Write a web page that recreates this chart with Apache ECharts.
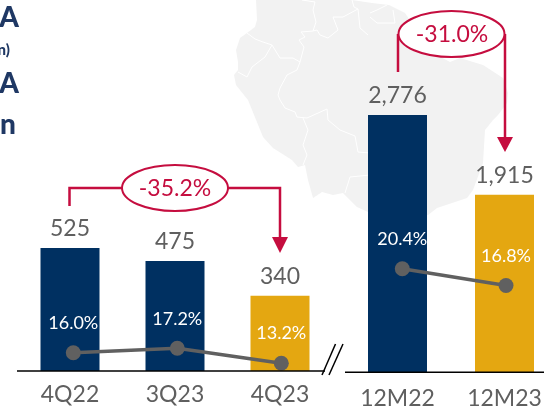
<!DOCTYPE html>
<html><head><meta charset="utf-8">
<style>html,body{margin:0;padding:0;background:#fff;overflow:hidden}#c{width:544px;height:407px}</style>
<script src="https://cdn.jsdelivr.net/npm/echarts@6/dist/echarts.min.js"></script>
</head><body><div id="c"></div>
<script>
const quarterCategories = ['4Q22', '3Q23', '4Q23'];
const quarterEbitda = [525, 475, 340];
const quarterMargin = [16.0, 17.2, 13.2];
const yearCategories = ['12M22', '12M23'];
const yearEbitda = [2776, 1915];
const yearMargin = [20.4, 16.8];
const quarterChange = '-35.2%';
const yearChange = '-31.0%';
const titleFragments = ['A', 'n)', 'A', 'n'];

const NAVY = '#003061', GOLD = '#e4a711', GRAY = '#606060', TEXT = '#5f5f5f', RED = '#c50d3f', FONT = 'Lato';
const fmt = p => Number(p.value).toLocaleString('en-US');
const pct = p => Number(p.value).toFixed(1) + '%';

function barSeries(idx, vals) {
  return {
    type: 'bar', xAxisIndex: idx, yAxisIndex: idx, barWidth: 59, z: 2,
    data: vals.map((v, i) => ({ value: v, itemStyle: { color: i === vals.length - 1 ? GOLD : NAVY } })),
    label: { show: true, position: 'top', distance: 8, formatter: fmt, color: TEXT, fontFamily: FONT, fontSize: 23 }
  };
}
function lineSeries(idx, vals) {
  return {
    type: 'line', xAxisIndex: idx, yAxisIndex: idx, data: vals, z: 3, symbol: 'circle', symbolSize: 15,
    lineStyle: { color: GRAY, width: 3.5 }, itemStyle: { color: GRAY },
    label: { show: true, position: 'top', distance: 13, formatter: pct, color: '#fff', fontFamily: FONT, fontSize: 18 }
  };
}
function catAxis(gridIndex, data, show, margin) {
  return {
    type: 'category', gridIndex, data, show,
    axisLine: { show: false }, axisTick: { show: false },
    axisLabel: { color: TEXT, fontFamily: FONT, fontSize: 23, margin, interval: 0 }
  };
}
function valAxis(gridIndex, min, max) {
  return { type: 'value', gridIndex, min, max, show: false, splitLine: { show: false } };
}

// decorative backdrop
const land = [[256,0],[257,20],[255,27],[247,33],[240,38],[236,50],[238,62],[238,70],[234,75],[236,85],[248,100],[263,137],[273,148],[292,160],[298,167],[305,165],[308,180],[313,198],[322,192],[333,195],[343,193],[357,207],[368,212],[398,222],[428,215],[437,208],[467,198],[473,190],[483,163],[485,130],[493,120],[498,115],[507,103],[508,93],[503,78],[483,65],[460,58],[450,62],[437,55],[413,25],[405,13],[389,5],[372,3],[352,0]];
const borders = [
  [[247,33],[255,39],[263,42],[272,45],[280,58],[293,58],[300,62],[297,70],[287,75],[280,88],[278,95],[280,100],[285,108],[295,112],[297,117],[307,118],[327,109],[328,120],[340,130],[355,136],[358,152],[370,153]],
  [[272,45],[265,57],[252,67],[247,77],[238,72]],
  [[300,62],[304,47],[299,40],[305,37],[301,32],[313,31],[317,30],[320,35],[328,38],[338,30],[333,17],[343,17],[358,9],[360,28],[368,35]],
  [[313,31],[316,22],[313,10],[315,2],[302,0]],
  [[352,0],[354,7],[358,9]],
  [[303,118],[308,130],[303,145],[307,155],[303,165]],
  [[370,175],[350,177],[345,193]],
  [[370,13],[377,10],[387,5]],
  [[393,10],[395,23],[377,23],[370,17]]
];

const stroke = { stroke: RED, lineWidth: 2.5, fill: null };
const redLine = pts => ({ type: 'polyline', z: 10, silent: true, shape: { points: pts }, style: stroke });
const arrow = (x, y0, y1) => ({ type: 'polygon', z: 10, silent: true, shape: { points: [[x - 8, y0], [x + 8, y0], [x, y1]] }, style: { fill: RED } });
const oval = (cx, cy) => ({ type: 'ellipse', z: 11, silent: true, shape: { cx, cy, rx: 53, ry: 23 }, style: { fill: '#fff', stroke: RED, lineWidth: 2 } });
const redText = (x, y, t) => ({ type: 'text', z: 12, silent: true, x, y, style: { text: t, fill: RED, font: '23px ' + FONT, align: 'center', verticalAlign: 'middle' } });
const title = (x, y, t, size) => ({ type: 'text', z: 12, silent: true, x, y, style: { text: t, fill: '#1f3864', font: '900 ' + size + 'px ' + FONT, align: 'right', verticalAlign: 'middle' } });
const blk = (x1, y1, x2, y2, w) => ({ type: 'line', z: 5, silent: true, shape: { x1, y1, x2, y2 }, style: { stroke: '#000', lineWidth: w } });

const graphic = [
  { type: 'polygon', z: 0, silent: true, shape: { points: land }, style: { fill: '#f2f2f2' } },
  ...borders.map(b => ({ type: 'polyline', z: 1, silent: true, shape: { points: b }, style: { stroke: '#fff', lineWidth: 1, fill: null } })),
  blk(17, 371, 325, 371, 1.6), blk(345, 372.3, 544, 372.3, 1.6),
  blk(322, 375, 335.5, 344, 1.5), blk(329, 375, 343, 344, 1.5),
  redLine([[69.5, 206], [69.5, 188], [280, 188], [280, 238]]), arrow(280, 237, 253), oval(175, 188), redText(175, 189, quarterChange),
  redLine([[398, 72], [398, 34]]), redLine([[505, 34], [505, 138]]), arrow(505, 137, 152), oval(451.5, 34), redText(452, 35, yearChange),
  title(19, 18, titleFragments[0], 28), title(10, 50, titleFragments[1], 15), title(19, 84, titleFragments[2], 28), title(16, 125, titleFragments[3], 28)
];

const chart = echarts.init(document.getElementById('c'), null, { renderer: 'canvas' });
const gridBase = { outerBoundsMode: 'none', containLabel: false };
chart.setOption({
  animation: false, backgroundColor: '#fff', textStyle: { fontFamily: FONT },
  grid: [
    { ...gridBase, left: 17.5, width: 315, top: 0, height: 371 },
    { ...gridBase, left: 344, width: 214, top: 0, height: 372.3 },
    { ...gridBase, left: 21.3, width: 312, top: 0, height: 371 },
    { ...gridBase, left: 350.45, width: 207.4, top: 0, height: 372.3 }
  ],
  xAxis: [
    catAxis(0, quarterCategories, true, 12), catAxis(1, yearCategories, true, 15),
    catAxis(2, quarterCategories, false, 0), catAxis(3, yearCategories, false, 0)
  ],
  yAxis: [valAxis(0, 47, 1490), valAxis(1, 0, 4016), valAxis(2, 11.1, 110.8), valAxis(3, -1.9, 78.3)],
  series: [barSeries(0, quarterEbitda), barSeries(1, yearEbitda), lineSeries(2, quarterMargin), lineSeries(3, yearMargin)],
  graphic
});
</script></body></html>
